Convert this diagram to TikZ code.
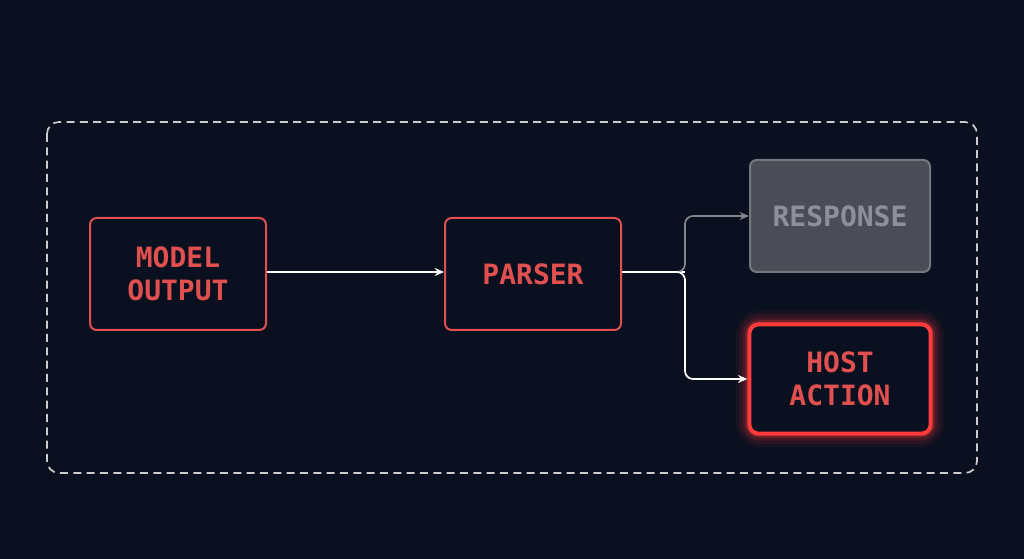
\documentclass[tikz,border=0pt]{standalone}
\usepackage{fontspec}
\setmonofont{DejaVu Sans Mono}
\usetikzlibrary{arrows.meta}
\definecolor{bg}{HTML}{0B1020}
\definecolor{rd}{HTML}{E0504E}
\definecolor{glow}{HTML}{FF3B3B}
\definecolor{gfill}{HTML}{4A4D56}
\definecolor{gline}{HTML}{74777E}
\definecolor{gtext}{HTML}{8D9098}
\begin{document}
\begin{tikzpicture}[x=0.75pt,y=-0.75pt,
  box/.style={draw=rd,line width=1.5pt,rounded corners=5pt,fill=bg,minimum width=132pt,minimum height=84pt,text=rd,font=\ttfamily\bfseries\fontsize{21}{25}\selectfont,align=center},
  arr/.style={-{Stealth[length=7pt,width=6pt]},line width=1.3pt,rounded corners=6pt}]
\fill[bg] (0,0) rectangle (1024,559);
\useasboundingbox (0,0) rectangle (1024,559);
\draw[white!80!black,line width=1.3pt,dash pattern=on 6pt off 4pt,rounded corners=9pt] (47,122) rectangle (977,473);
\node[box] (m) at (178,274) {MODEL\\OUTPUT};
\node[box] (p) at (533,274) {PARSER};
\node[box,draw=gline,fill=gfill,text=gtext,minimum width=135pt] (r) at (840,216) {RESPONSE};
\foreach \w/\o in {20/0.05,15/0.08,10/0.12,6/0.22}
  \draw[glow,line width=\w pt,opacity=\o,rounded corners=8pt] (749,324) rectangle (931,434);
\node[box,draw=glow,line width=3pt,minimum width=136pt,minimum height=82pt,rounded corners=7pt] (h) at (840,379) {HOST\\ACTION};
\coordinate (j) at (685,272);
\draw[arr,white] (m.east|-0,272) -- (p.west|-0,272);
\draw[line width=1.3pt,white] (p.east|-0,272) -- (j);
\draw[arr,gline!90!white] (p.east|-0,272) -| (685,216) -- (r.west|-0,216);
\draw[arr,white] (p.east|-0,272) -| (685,379) -- (h.west|-0,379);
\end{tikzpicture}
\end{document}
